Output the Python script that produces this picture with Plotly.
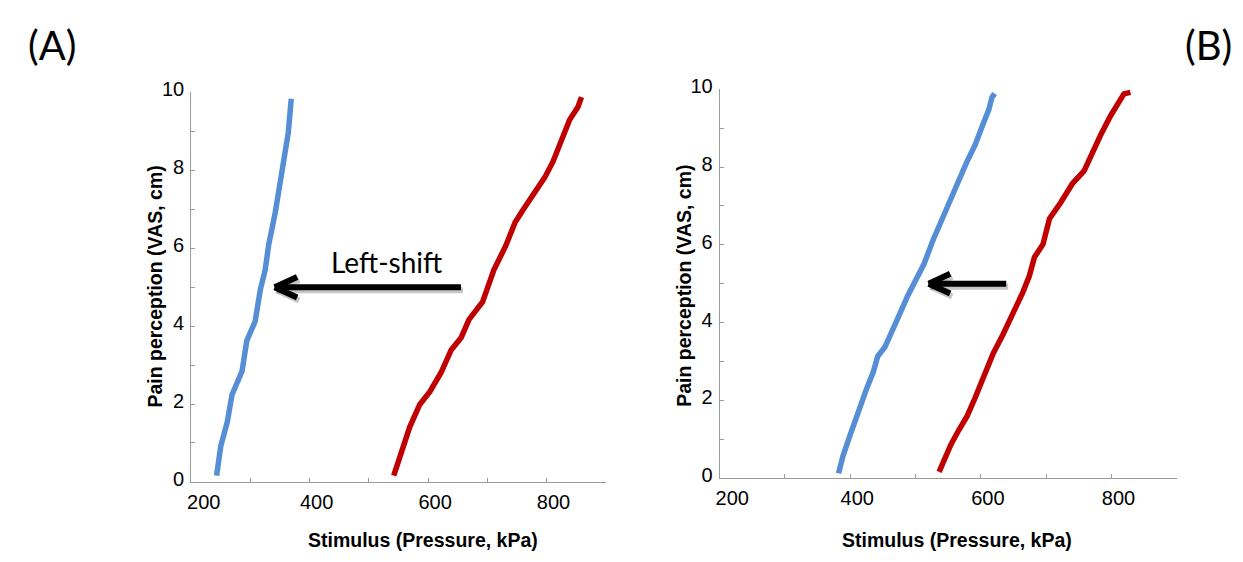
import plotly.graph_objects as go

# ---------------- data ----------------
# Panel A
a_blue_x = [243, 250, 261, 269, 286, 294, 308, 317, 325, 331, 342, 350, 358, 364, 369]
a_blue_y = [0.16, 0.92, 1.54, 2.24, 2.85, 3.63, 4.12, 4.95, 5.44, 6.10, 6.92, 7.74, 8.48, 8.97, 9.84]
a_red_x = [542, 553, 569, 586, 603, 622, 639, 656, 669, 692, 706, 711, 731, 747, 761, 778,
           797, 811, 825, 839, 853, 859]
a_red_y = [0.16, 0.67, 1.41, 1.99, 2.32, 2.81, 3.39, 3.71, 4.17, 4.62, 5.19, 5.44, 6.06, 6.67,
           7.00, 7.41, 7.82, 8.23, 8.81, 9.30, 9.63, 9.88]
# Panel B
b_blue_x = [382, 389, 399, 409, 417, 425, 435, 442, 453, 465, 473, 488, 501, 513, 526, 538,
            548, 564, 579, 591, 602, 612, 617, 621]
b_blue_y = [0.12, 0.58, 1.07, 1.56, 1.89, 2.30, 2.72, 3.13, 3.37, 3.87, 4.12, 4.69, 5.10, 5.51,
            6.09, 6.58, 7.00, 7.57, 8.15, 8.56, 9.05, 9.47, 9.79, 9.89]
b_red_x = [536, 544, 554, 566, 579, 591, 604, 619, 634, 649, 664, 674, 682, 695, 705, 722,
           740, 758, 771, 783, 798, 809, 819, 829]
b_red_y = [0.16, 0.49, 0.86, 1.23, 1.60, 2.06, 2.63, 3.21, 3.70, 4.20, 4.77, 5.19, 5.68, 6.01,
           6.67, 7.08, 7.57, 7.90, 8.40, 8.81, 9.30, 9.63, 9.88, 9.92]

x_tickvals = [200, 400, 600, 800]
x_ticktext = ["\u00a0\u00a0200", "400", "600", "800"]
y_tickvals = [0, 2, 4, 6, 8, 10]
y_ticktext = ["0", "2", "4", "6", "8", "10"]

panel_labels = ["(A)", "(B)"]
x_title = "Stimulus (Pressure, kPa)"
y_title = "Pain perception (VAS, cm)"
shift_text = "Left-shift"

# arrows: (tail x, tip x, y) in data units
arrow_a = (658, 341, 5.0)
arrow_b = (641, 520, 5.0)

# ---------------- styling ----------------
BLUE = "#558ED5"
RED = "#C00000"
AXIS_GRAY = "#9a9a9a"
FONT = "Liberation Sans, Arial, sans-serif"
CAL = "Lato, Carlito, Calibri, sans-serif"

fig = go.Figure()
fig.add_trace(go.Scatter(x=a_blue_x, y=a_blue_y, mode="lines", line=dict(color=BLUE, width=5.5),
                         xaxis="x", yaxis="y", showlegend=False, name="A blue"))
fig.add_trace(go.Scatter(x=a_red_x, y=a_red_y, mode="lines", line=dict(color=RED, width=5.5),
                         xaxis="x", yaxis="y", showlegend=False, name="A red"))
fig.add_trace(go.Scatter(x=b_blue_x, y=b_blue_y, mode="lines", line=dict(color=BLUE, width=5.5),
                         xaxis="x2", yaxis="y2", showlegend=False, name="B blue"))
fig.add_trace(go.Scatter(x=b_red_x, y=b_red_y, mode="lines", line=dict(color=RED, width=5.5),
                         xaxis="x2", yaxis="y2", showlegend=False, name="B red"))

def xaxis_cfg(domain, anchor):
    return dict(domain=domain, anchor=anchor, range=[200, 900], showgrid=False, zeroline=False,
                showline=True, linecolor=AXIS_GRAY, linewidth=1,
                tickmode="array", tickvals=x_tickvals, ticktext=x_ticktext,
                ticks="inside", ticklen=4, tickcolor=AXIS_GRAY,
                minor=dict(dtick=100, tick0=200, ticks="inside", ticklen=4, tickcolor=AXIS_GRAY),
                tickfont=dict(family=FONT, size=20, color="#000"),
                ticklabelshift=7, ticklabelstandoff=2, fixedrange=True)

def yaxis_cfg(domain, anchor):
    return dict(domain=domain, anchor=anchor, range=[0, 10], showgrid=False, zeroline=False,
                showline=True, linecolor=AXIS_GRAY, linewidth=1,
                tickmode="array", tickvals=y_tickvals, ticktext=y_ticktext,
                ticks="inside", ticklen=4, tickcolor=AXIS_GRAY,
                minor=dict(dtick=1, tick0=0, ticks="inside", ticklen=4, tickcolor=AXIS_GRAY),
                tickfont=dict(family=FONT, size=20, color="#000"),
                ticklabelshift=-3, ticklabelstandoff=2, fixedrange=True)

W, H = 1243, 562
fig.update_layout(
    width=W, height=H, margin=dict(l=0, r=0, t=0, b=0),
    paper_bgcolor="white", plot_bgcolor="white", showlegend=False,
    xaxis=xaxis_cfg([0.14344, 0.48109], "y"),
    yaxis=yaxis_cfg([0.13345, 0.85463], "x"),
    xaxis2=xaxis_cfg([0.57385, 0.94610], "y2"),
    yaxis2=yaxis_cfg([0.14057, 0.86068], "x2"),
)

ann = []
# panel labels
ann.append(dict(text=panel_labels[0], x=0.0302, y=0.943, xref="paper", yref="paper",
                showarrow=False, xanchor="center", yanchor="middle",
                font=dict(family=CAL, size=40, color="#000")))
ann.append(dict(text=panel_labels[1], x=0.9718, y=0.943, xref="paper", yref="paper",
                showarrow=False, xanchor="center", yanchor="middle",
                font=dict(family=CAL, size=40, color="#000")))
# axis titles
for xc, yc in [(0.3323, 0.0267), (0.7675, 0.0267)]:
    ann.append(dict(text="<b>" + x_title + "</b>", x=xc, y=yc, xref="paper", yref="paper",
                    showarrow=False, xanchor="center", yanchor="middle",
                    font=dict(family=FONT, size=19.5, color="#000")))
for xc, yc in [(0.1142, 0.4956), (0.5447, 0.4964)]:
    ann.append(dict(text="<b>" + y_title + "</b>", x=xc, y=yc, xref="paper", yref="paper",
                    showarrow=False, xanchor="center", yanchor="middle", textangle=-90,
                    font=dict(family=FONT, size=19.5, color="#000")))
# Left-shift text
ann.append(dict(text=shift_text, x=529.5, y=5.65, xref="x", yref="y", showarrow=False,
                xanchor="center", yanchor="middle", font=dict(family=CAL, size=28, color="#000")))

def add_arrow(arrow, xr, yr, arm_dx, arm_dy):
    tail, tip, yv = arrow
    for (col, xs, ys) in [("rgba(0,0,0,0.22)", 2, -3), ("#000", 0, 0)]:
        ann.append(dict(text="", x=tip, y=yv, ax=tail, ay=yv, xref=xr, yref=yr,
                        axref=xr, ayref=yr, showarrow=True, arrowhead=0, arrowwidth=6,
                        arrowcolor=col, xshift=xs, yshift=ys, standoff=0, startstandoff=0))
        for sgn in (-1, 1):
            ann.append(dict(text="", x=tip, y=yv, ax=arm_dx, ay=sgn * arm_dy, xref=xr, yref=yr,
                            showarrow=True, arrowhead=0, arrowwidth=6, arrowcolor=col,
                            xshift=xs, yshift=ys, standoff=0, startstandoff=0))

add_arrow(arrow_a, "x", "y", 24, 11)
add_arrow(arrow_b, "x2", "y2", 23, 10.5)

fig.update_layout(annotations=ann)
fig.write_html(
    "out.html",
    config={"displayModeBar": False, "staticPlot": True},
    post_script="document.documentElement.style.margin='0';document.body.style.margin='0';"
                "document.body.style.overflow='hidden';",
)
